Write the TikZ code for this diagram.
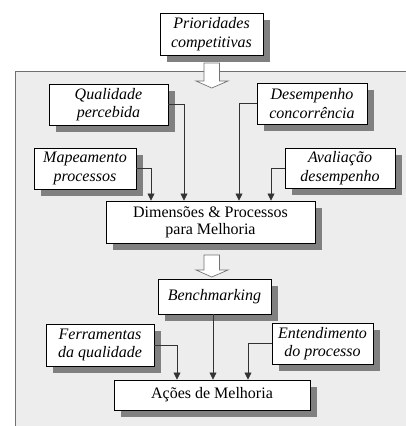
\documentclass[tikz,border=0pt]{standalone}
\usepackage{fontspec}
\setmainfont{Liberation Serif}
\usetikzlibrary{shadows,arrows.meta}
\definecolor{panelfill}{HTML}{EDEDED}
\definecolor{panelline}{HTML}{707070}
\definecolor{shadowgray}{HTML}{808080}
\begin{document}
\begin{tikzpicture}[x=1pt,y=-1pt,
  box/.style={draw=black,line width=0.9pt,fill=white,inner sep=0pt,align=center,
    drop shadow={shadow xshift=7pt,shadow yshift=-7pt,fill=shadowgray,opacity=1}},
  itbox/.style={box,font=\fontsize{16}{18.5}\selectfont\itshape},
  rmbox/.style={box,font=\fontsize{16}{17}\selectfont},
  conn/.style={draw=black!80,line width=0.7pt,-{Triangle[length=7pt,width=7pt]}},
  hollow/.style={draw=black!55,line width=0.7pt,fill=white}]
\useasboundingbox (0,0) rectangle (406,426);
\fill[white] (0,0) rectangle (406,426);
% panel
\filldraw[fill=panelfill,draw=panelline,line width=1.5pt] (15.5,71.5) rectangle (440,460);
% boxes
\node[itbox,minimum width=103pt,minimum height=42pt] (prio) at (211.5,34) {Prioridades\\competitivas};
\node[itbox,minimum width=119pt,minimum height=41pt] (qual) at (108.5,104.5) {Qualidade\\percebida};
\node[itbox,minimum width=110pt,minimum height=41pt] (desemp) at (312,103.5) {Desempenho\\concorrência};
\node[itbox,minimum width=102pt,minimum height=41pt] (mapa) at (85,168.5) {Mapeamento\\processos};
\node[itbox,minimum width=110pt,minimum height=40pt] (aval) at (340,168) {Avaliação\\desempenho};
\node[rmbox,minimum width=209pt,minimum height=42pt] (dim) at (210.5,222) {Dimensões \& Processos\\para Melhoria};
\node[itbox,minimum width=113pt,minimum height=35pt] (bench) at (214.5,296.5) {Benchmarking};
\node[itbox,minimum width=108pt,minimum height=42pt] (ferr) at (100,345) {Ferramentas\\da qualidade};
\node[itbox,minimum width=101pt,minimum height=41pt] (entend) at (322.5,343.5) {Entendimento\\do processo};
\node[rmbox,minimum width=196pt,minimum height=30pt] (acoes) at (212,395) {Ações de Melhoria};
% hollow block arrows
\draw[hollow] (204,63) -- (219.5,63) -- (219.5,81) -- (228,81) -- (211.75,88) -- (196,81) -- (204,81) -- cycle;
\draw[hollow] (204,255) -- (219.5,255) -- (219.5,270) -- (228,270) -- (211.75,277) -- (196,270) -- (204,270) -- cycle;
% connectors
\draw[conn] (qual.east) -| ([xshift=-26.5pt]dim.north);
\draw[conn] (mapa.east) -| ([xshift=-59.5pt]dim.north);
\draw[conn] (desemp.west) -| ([xshift=28.5pt]dim.north);
\draw[conn] (aval.west) -| ([xshift=60.5pt]dim.north);
\draw[conn] ([xshift=-1.5pt]bench.south) -- ([xshift=-1.5pt]bench.south |- acoes.north);
\draw[conn] (ferr.east) -| ([xshift=-35pt]acoes.north);
\draw[conn] (entend.west) -| ([xshift=36pt]acoes.north);
\end{tikzpicture}
\end{document}
